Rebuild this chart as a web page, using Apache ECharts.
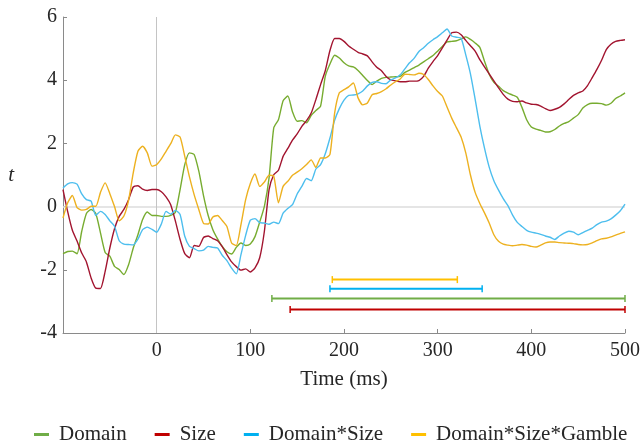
<!DOCTYPE html>
<html><head><meta charset="utf-8">
<script src="https://cdn.jsdelivr.net/npm/echarts@6/dist/echarts.min.js"></script>
<style>html,body{margin:0;padding:0;background:#fff}#c{width:643px;height:446px}</style>
</head><body><div id="c"></div>
<script>
// time grid (ms), 5 ms step from -100 to 500
const times = [];
for (let i = 0; i <= 120; i++) times.push(-100 + 5 * i);

const seriesNames = ['Domain', 'Size', 'Domain*Size', 'Domain*Size*Gamble'];

const domain = [
 -1.49,-1.42,-1.41,-1.49,-0.78,-0.22,-0.09,-0.22,-0.83,-1.45,-1.57,-1.89,-1.99,-2.15,-1.84,-1.31,-0.89,-0.41,-0.17,-0.28,-0.28,-0.31,-0.31,-0.28,-0.18,0.54,1.33,1.70,1.65,1.12,0.35,
 -0.28,-0.73,-1.02,-1.26,-1.43,-1.50,-1.29,-1.15,-1.23,-1.18,-0.95,-0.49,0.01,0.91,2.49,2.75,3.35,3.50,3.00,2.70,2.72,2.65,2.89,3.04,3.18,4.12,4.51,4.79,4.70,4.55,
 4.45,4.42,4.31,4.15,3.99,3.86,3.97,4.06,4.09,4.10,4.11,4.12,4.25,4.32,4.40,4.48,4.58,4.68,4.78,4.92,5.07,5.21,5.23,5.25,5.31,5.37,5.29,5.18,5.04,4.60,
 4.19,3.93,3.81,3.67,3.59,3.53,3.46,3.14,2.75,2.52,2.45,2.41,2.36,2.37,2.44,2.55,2.63,2.69,2.80,2.91,3.12,3.23,3.27,3.27,3.26,3.21,3.27,3.42,3.50,3.60
];
const size = [
 0.54,-0.16,-0.75,-1.09,-1.47,-1.75,-2.26,-2.58,-2.59,-2.05,-1.31,-0.70,-0.31,-0.09,0.22,0.62,0.66,0.55,0.51,0.54,0.54,0.47,0.31,0.06,-0.46,-1.04,-1.49,-1.62,-1.23,-1.26,-0.98,
 -0.93,-1.01,-1.08,-1.27,-1.52,-1.75,-1.90,-2.01,-1.97,-2.07,-1.94,-1.62,-0.78,0.54,1.01,1.15,1.59,1.84,2.10,2.30,2.54,2.72,2.96,3.39,3.86,4.30,4.94,5.32,5.32,5.23,
 5.08,4.98,4.88,4.83,4.77,4.58,4.41,4.30,4.12,4.01,3.98,3.95,3.95,3.97,3.97,3.99,4.12,4.38,4.59,4.78,5.02,5.27,5.50,5.52,5.44,5.26,5.09,4.92,4.65,4.42,
 4.20,3.98,3.76,3.55,3.40,3.33,3.32,3.34,3.28,3.24,3.23,3.18,3.10,3.04,3.08,3.14,3.25,3.39,3.52,3.60,3.66,3.83,4.08,4.34,4.63,4.97,5.14,5.23,5.26,5.28
];
const domainSize = [
 0.59,0.72,0.76,0.71,0.40,0.22,0.17,-0.28,-0.15,-0.25,-0.45,-0.62,-1.08,-1.19,-1.20,-1.21,-1.03,-0.73,-0.65,-0.72,-0.81,-0.55,-0.15,-0.24,-0.12,-0.25,-0.94,-1.26,-1.33,-1.40,-1.38,
 -1.26,-1.29,-1.31,-1.54,-1.71,-1.95,-2.13,-1.52,-0.91,-0.43,-0.38,-0.51,-0.52,-0.56,-0.49,-0.54,-0.21,-0.06,0.06,0.40,0.64,0.89,0.82,1.19,1.33,1.67,2.17,2.73,3.10,3.37,
 3.52,3.53,3.57,3.66,3.82,3.93,3.95,3.90,3.89,4.01,4.07,4.17,4.36,4.55,4.70,4.91,5.03,5.17,5.28,5.38,5.50,5.62,5.40,5.36,5.33,4.80,4.20,3.40,2.55,1.85,
 1.25,0.82,0.52,0.25,0.03,-0.27,-0.50,-0.63,-0.75,-0.81,-0.84,-0.88,-0.93,-0.97,-1.04,-0.93,-0.84,-0.78,-0.81,-0.89,-0.82,-0.75,-0.68,-0.57,-0.49,-0.46,-0.39,-0.27,-0.13,0.08
];
const domainSizeGamble = [
 -0.36,0.12,0.35,-0.03,-0.11,-0.09,0.01,0.01,0.45,0.75,0.41,0.00,-0.45,-0.30,0.20,1.07,1.75,1.91,1.70,1.28,1.33,1.51,1.75,1.99,2.27,2.20,1.59,0.94,0.38,-0.09,-0.53,
 -0.55,-0.33,-0.28,-0.44,-0.63,-1.15,-1.23,-0.57,0.22,0.73,1.03,0.64,0.78,0.99,0.96,0.12,0.64,0.80,0.99,1.09,1.20,1.33,1.48,1.24,1.54,1.54,1.65,2.96,3.60,3.70,
 3.79,3.91,3.44,3.22,3.28,3.54,3.58,3.64,3.73,3.85,3.95,4.04,4.19,4.18,4.17,4.22,4.18,4.02,3.82,3.64,3.50,3.15,2.80,2.50,2.20,1.70,1.00,0.45,0.10,-0.20,
 -0.52,-0.89,-1.10,-1.19,-1.22,-1.24,-1.22,-1.20,-1.22,-1.26,-1.28,-1.22,-1.15,-1.12,-1.12,-1.14,-1.15,-1.16,-1.17,-1.20,-1.21,-1.20,-1.15,-1.08,-1.02,-1.00,-0.96,-0.90,-0.85,-0.80
];

// significance intervals (ms) and the t level at which each is drawn
const sigStart = [123, 142.5, 185, 187.5];
const sigEnd   = [500, 500, 347.5, 321];
const sigLevel = [-2.91, -3.26, -2.60, -2.31];

const xTicks = [-100, 0, 100, 200, 300, 400, 500];
const yTicks = [-4, -2, 0, 2, 4, 6];

const lineColors = ['#77AC30', '#A2142F', '#4DBEEE', '#EDB120'];
const keyColors  = ['#70AD47', '#C00000', '#00B0F0', '#FFC000'];
const FONT = 'Liberation Serif';
const TXT = '#262626';

const allValues = [domain, size, domainSize, domainSizeGamble];

const lineSeries = seriesNames.map((name, k) => ({
  name: name,
  type: 'line',
  showSymbol: false,
  symbol: 'none',
  smooth: 0.2,
  z: 3,
  data: times.map((t, i) => [t, allValues[k][i]]),
  lineStyle: { color: lineColors[k], width: 1.4 },
  itemStyle: { color: keyColors[k] },
  emphasis: { disabled: true },
  markLine: k === 0 ? {
    silent: true, symbol: 'none', label: { show: false }, z: 1,
    data: [
      { yAxis: 0, lineStyle: { color: '#dcdcdc', width: 1.5, type: 'solid' } },
      { xAxis: 0, lineStyle: { color: '#c4c4c4', width: 1, type: 'solid' } }
    ]
  } : undefined
}));

const sigSeries = {
  type: 'custom',
  name: 'sig',
  z: 4,
  encode: { x: [0, 1], y: 2 },
  data: sigStart.map((s, i) => [s, sigEnd[i], sigLevel[i]]),
  renderItem: function (params, api) {
    const p0 = api.coord([api.value(0), api.value(2)]);
    const p1 = api.coord([api.value(1), api.value(2)]);
    const c = keyColors[params.dataIndex];
    const h = 3.5;
    return { type: 'group', children: [
      { type: 'line', shape: { x1: p0[0], y1: p0[1], x2: p1[0], y2: p1[1] }, style: { stroke: c, lineWidth: 2 } },
      { type: 'line', shape: { x1: p0[0], y1: p0[1] - h, x2: p0[0], y2: p0[1] + h }, style: { stroke: c, lineWidth: 1.5 } },
      { type: 'line', shape: { x1: p1[0], y1: p1[1] - h, x2: p1[0], y2: p1[1] + h }, style: { stroke: c, lineWidth: 1.5 } }
    ]};
  }
};

const chart = echarts.init(document.getElementById('c'), null, { renderer: 'canvas' });
chart.setOption({
  animation: false,
  backgroundColor: '#fff',
  grid: { left: 63, right: 16, top: 17, bottom: 113, containLabel: false },
  xAxis: {
    type: 'value', min: xTicks[0], max: xTicks[xTicks.length - 1], interval: 100,
    name: 'Time (ms)', nameLocation: 'middle', nameGap: 36,
    nameTextStyle: { fontFamily: FONT, fontSize: 21, color: TXT },
    axisLine: { show: true, onZero: false, lineStyle: { color: '#8a8a8a', width: 1 } },
    axisTick: { show: true, inside: true, length: 4, lineStyle: { color: '#8a8a8a' } },
    axisLabel: { fontFamily: FONT, fontSize: 20, color: TXT, margin: 8,
      formatter: v => (v === xTicks[0] ? '' : String(v)) },
    splitLine: { show: false }
  },
  yAxis: {
    type: 'value', min: yTicks[0], max: yTicks[yTicks.length - 1], interval: 2,
    name: 't', nameLocation: 'middle', nameRotate: 0, nameGap: 49,
    nameTextStyle: { fontFamily: FONT, fontSize: 21, fontStyle: 'italic', color: TXT },
    axisLine: { show: true, onZero: false, lineStyle: { color: '#8a8a8a', width: 1 } },
    axisTick: { show: true, inside: true, length: 4, lineStyle: { color: '#8a8a8a' } },
    axisLabel: { fontFamily: FONT, fontSize: 20, color: TXT, margin: 6 },
    splitLine: { show: false }
  },
  legend: {
    left: 34, top: 424, padding: 0, itemGap: 28, itemWidth: 15, itemHeight: 3,
    selectedMode: false,
    textStyle: { fontFamily: FONT, fontSize: 21, color: TXT, padding: [0, 0, 0, 5] },
    data: seriesNames.map((n, k) => ({ name: n, icon: 'rect', itemStyle: { color: keyColors[k] } }))
  },
  series: [...lineSeries, sigSeries]
});
</script>
</body></html>
